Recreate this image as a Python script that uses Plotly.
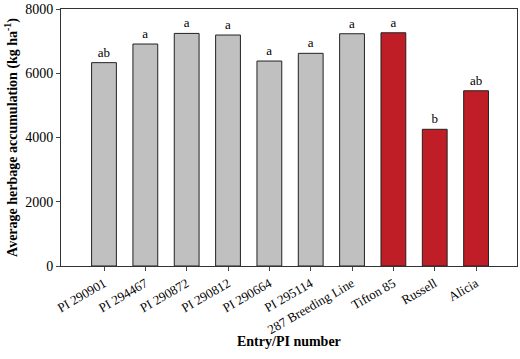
import plotly.graph_objects as go

entries = ["PI 290901", "PI 294467", "PI 290872", "PI 290812", "PI 290664",
           "PI 295114", "287 Breeding Line", "Tifton 85", "Russell", "Alicia"]
herbage = [6330, 6910, 7240, 7190, 6380, 6620, 7230, 7260, 4255, 5455]
letters = ["ab", "a", "a", "a", "a", "a", "a", "a", "b", "ab"]
groups = ["entry"] * 7 + ["check"] * 3

colors = ["#C0C0C0" if g == "entry" else "#BF1E26" for g in groups]
FAM = "Liberation Serif, Times New Roman, serif"

fig = go.Figure(go.Bar(
    x=entries, y=herbage, width=0.6,
    marker=dict(color=colors, line=dict(color="#222222", width=1)),
    text=letters, textposition="outside", cliponaxis=False,
    textfont=dict(family=FAM, size=13, color="black"),
))

font = dict(family=FAM, color="black")
fig.update_layout(
    width=520, height=359,
    margin=dict(l=61, r=3, t=9, b=93, autoexpand=False),
    paper_bgcolor="white", plot_bgcolor="white",
    font=dict(family=FAM, size=13, color="black"),
    showlegend=False,
    xaxis=dict(
        range=[-1.04, 9.99], tickangle=-30, ticks="outside", ticklen=4, automargin=False,
        showline=True, linecolor="#333333", linewidth=1, mirror=True,
        showgrid=False, tickfont=dict(size=13, **font),
    ),
    yaxis=dict(
        range=[0, 8000], tickvals=[0, 2000, 4000, 6000, 8000], ticks="outside", ticklen=4,
        automargin=False,
        showline=True, linecolor="#333333", linewidth=1, mirror=True,
        showgrid=False, zeroline=False, tickfont=dict(size=14, **font),
        title=dict(text="<b>Average herbage accumulation (kg ha<sup>-1</sup>)</b>",
                   font=dict(size=14, **font), standoff=4),
    ),
    annotations=[dict(
        text="<b>Entry/PI number</b>", xref="paper", yref="paper",
        x=0.5, y=-0.292, xanchor="center", yanchor="middle", showarrow=False,
        font=dict(size=14, **font),
    )],
)

fig.write_html("out.html", config={"displayModeBar": False},
               post_script="document.body.style.margin='0';document.body.style.padding='0';")
